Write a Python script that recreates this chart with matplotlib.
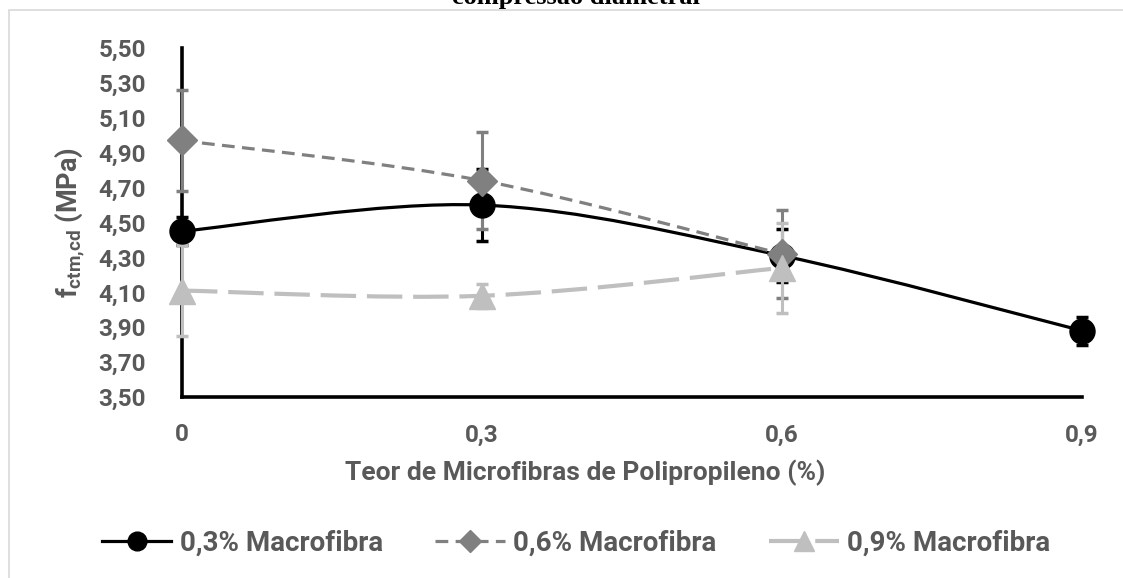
import numpy as np
import matplotlib
matplotlib.use('Agg')
import matplotlib.pyplot as plt
from matplotlib.path import Path
from matplotlib.patches import PathPatch, Rectangle
from matplotlib.lines import Line2D

plt.rcParams['font.family'] = ['Roboto', 'DejaVu Sans']
plt.rcParams['font.weight'] = 'bold'
plt.rcParams['mathtext.fontset'] = 'custom'
plt.rcParams['mathtext.rm'] = 'Roboto:bold'
plt.rcParams['mathtext.bf'] = 'Roboto:bold'

TEXT_COLOR = '#595959'

# teor de microfibras (%)
x_micro = [0.0, 0.3, 0.6, 0.9]
x_labels = ['0', '0,3', '0,6', '0,9']

# resistência média e desvio padrão por teor de macrofibra
f_macro_03 = [4.45, 4.60, 4.31, 3.88]
sd_macro_03 = [0.08, 0.205, 0.15, 0.08]

f_macro_06 = [4.97, 4.74, 4.32]
sd_macro_06 = [0.29, 0.28, 0.25]

f_macro_09 = [4.11, 4.08, 4.24]
sd_macro_09 = [0.26, 0.07, 0.26]

y_ticks = [3.5, 3.7, 3.9, 4.1, 4.3, 4.5, 4.7, 4.9, 5.1, 5.3, 5.5]


def smooth_path(x, y):
    """Curva suavizada (Bezier cúbica) passando pelos pontos, como no Excel."""
    pts = np.column_stack([x, y]).astype(float)
    n = len(pts)
    verts = [pts[0]]
    codes = [Path.MOVETO]
    for i in range(n - 1):
        p0 = pts[max(i - 1, 0)]
        p1 = pts[i]
        p2 = pts[i + 1]
        p3 = pts[min(i + 2, n - 1)]
        c1 = p1 + (p2 - p0) / 6.0
        c2 = p2 - (p3 - p1) / 6.0
        verts += [c1, c2, p2]
        codes += [Path.CURVE4] * 3
    return Path(verts, codes)


series = [
    (f_macro_03, sd_macro_03, 'black', '-', 'o', 18, '0,3% Macrofibra', 2.3),
    (f_macro_06, sd_macro_06, '#808080', (0, (4.0, 2.3)), 'D', 15, '0,6% Macrofibra', 2.3),
    (f_macro_09, sd_macro_09, '#BFBFBF', (0, (8.5, 2.6)), '^', 19, '0,9% Macrofibra', 3.0),
]

fig = plt.figure(figsize=(11.23, 5.78), dpi=100)
ax = fig.add_axes([182 / 1123, 1 - 397 / 578, 900 / 1123, 349 / 578])

# moldura da área do gráfico
fig.patches.append(Rectangle((9 / 1123, -0.1), 1.2, 1 - 10 / 578 + 0.1,
                             transform=fig.transFigure, fill=False,
                             edgecolor='#D9D9D9', linewidth=1.2))

handles = []
for vals, sd, color, ls, marker, ms, label, lw in series:
    xs = x_micro[:len(vals)]
    ax.add_patch(PathPatch(smooth_path(xs, vals), fill=False, edgecolor=color,
                           linewidth=lw, linestyle=ls, capstyle='butt',
                           zorder=3, clip_on=False))
    ax.errorbar(xs, vals, yerr=sd, fmt='none', ecolor=color, elinewidth=2.2,
                capsize=4, capthick=2.5, zorder=4, clip_on=False)
    ax.plot(xs, vals, linestyle='none', marker=marker, markersize=ms,
            color=color, zorder=5, clip_on=False)
    handles.append(Line2D([], [], color=color, linestyle=ls, linewidth=lw,
                          marker=marker, markersize=ms * 0.75))

ax.set_xlim(0, 0.9)
ax.set_ylim(3.5, 5.5)
ax.set_xticks(x_micro)
ax.set_xticklabels(x_labels)
ax.set_yticks(y_ticks)
ax.set_yticklabels([f'{v:.2f}'.replace('.', ',') for v in y_ticks])
ax.tick_params(axis='both', length=0, labelsize=17.5, labelcolor=TEXT_COLOR)
ax.tick_params(axis='x', pad=19)
ax.tick_params(axis='y', pad=26)
for lab in ax.get_xticklabels() + ax.get_yticklabels():
    lab.set_fontweight('bold')

for side in ['top', 'right']:
    ax.spines[side].set_visible(False)
for side in ['left', 'bottom']:
    ax.spines[side].set_linewidth(2.6)
    ax.spines[side].set_color('black')
    ax.spines[side].set_zorder(2)

ax.set_ylabel(r'$\mathbf{f_{ctm{,}cd}}$ (MPa)', fontsize=19.5, fontweight='bold',
              color=TEXT_COLOR, labelpad=8)

fig.text(585 / 1123, 1 - 473 / 578, 'Teor de Microfibras de Polipropileno (%)',
         fontsize=19, fontweight='bold', color=TEXT_COLOR, ha='center', va='center')

fig.text(576 / 1123, 1 - 4 / 578, 'compressão diametral', family='Liberation Serif',
         fontsize=19, fontweight='bold', color='black', ha='center', va='baseline')

fig.legend(handles, [s[6] for s in series], loc='center', ncol=3, frameon=False,
           bbox_to_anchor=(576 / 1123, 1 - 543 / 578),
           handlelength=2.5, columnspacing=1.9, handletextpad=0.3,
           prop={'family': 'Roboto', 'weight': 'bold', 'size': 20},
           labelcolor=TEXT_COLOR)

fig.savefig('out.png', dpi=100)
